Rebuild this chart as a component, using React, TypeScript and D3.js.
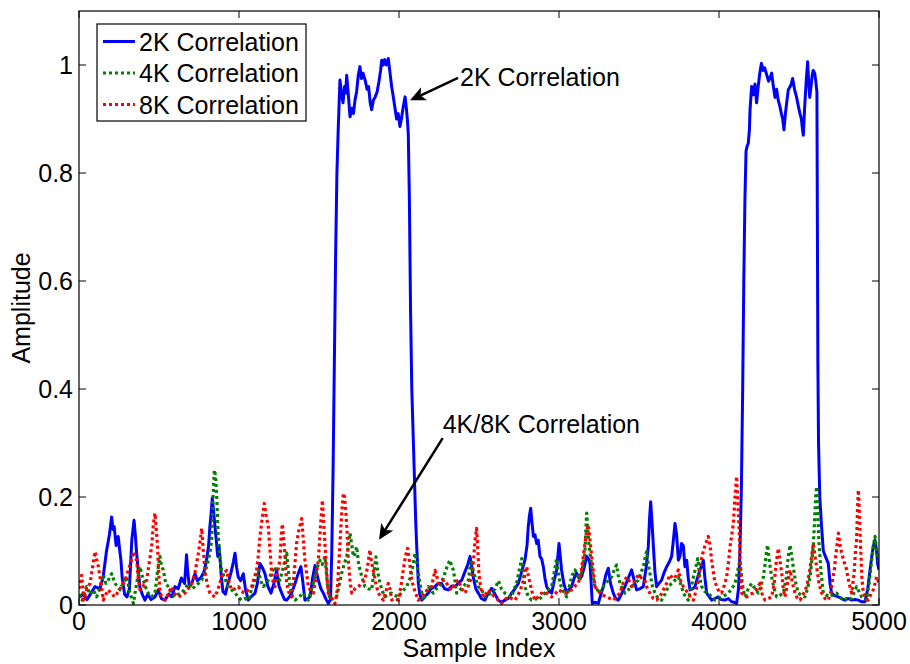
import React from "react";
import * as d3 from "d3";

// Correlation magnitude vs. sample index, [sample, amplitude]
const corr2k: [number, number][] = [
  [0,0.015],[25,0.02],[50,0.01],[75,0.022],[100,0.034],[130,0.03],[150,0.05],[172,0.10],[190,0.13],[204,0.163],[212,0.14],[220,0.145],[232,0.11],[245,0.127],[255,0.10],[262,0.083],[270,0.05],[285,0.02],[300,0.015],[315,0.03],[330,0.12],[344,0.157],[352,0.13],[360,0.096],[372,0.06],[380,0.034],[395,0.02],[412,0.009],[430,0.02],[450,0.01],[475,0.015],[495,0.028],[515,0.012],[537,0.009],[560,0.02],[580,0.015],[600,0.034],[620,0.03],[640,0.05],[660,0.04],[672,0.093],[680,0.06],[690,0.034],[705,0.04],[725,0.058],[740,0.045],[760,0.05],[780,0.06],[797,0.083],[810,0.11],[818,0.145],[826,0.17],[833,0.198],[842,0.17],[850,0.145],[858,0.12],[867,0.09],[875,0.11],[883,0.08],[890,0.05],[900,0.025],[915,0.02],[931,0.04],[950,0.06],[965,0.08],[975,0.096],[985,0.07],[995,0.052],[1010,0.045],[1027,0.058],[1040,0.03],[1058,0.009],[1075,0.015],[1100,0.022],[1115,0.04],[1131,0.077],[1145,0.07],[1162,0.058],[1180,0.035],[1200,0.022],[1218,0.04],[1235,0.064],[1250,0.035],[1267,0.022],[1285,0.01],[1298,0.009],[1315,0.015],[1329,0.022],[1350,0.04],[1371,0.059],[1387,0.071],[1400,0.04],[1412,0.009],[1430,0.012],[1444,0.015],[1460,0.05],[1475,0.073],[1485,0.06],[1496,0.046],[1512,0.03],[1527,0.022],[1545,0.01],[1558,0.003],[1572,0.01],[1580,0.1],[1588,0.25],[1596,0.45],[1604,0.65],[1612,0.8],[1620,0.88],[1631,0.972],[1640,0.95],[1650,0.93],[1660,0.96],[1667,0.948],[1673,0.981],[1682,0.95],[1694,0.904],[1705,0.92],[1715,0.91],[1725,0.935],[1735,0.95],[1745,0.98],[1756,0.997],[1765,0.975],[1775,0.985],[1790,0.97],[1800,0.955],[1810,0.96],[1820,0.93],[1829,0.917],[1840,0.935],[1850,0.94],[1863,0.95],[1875,0.97],[1885,0.99],[1892,1.009],[1900,1.0],[1910,1.01],[1920,1.0],[1933,1.012],[1942,0.99],[1954,0.96],[1965,0.94],[1975,0.92],[1985,0.9],[1995,0.91],[2006,0.886],[2015,0.9],[2025,0.92],[2038,0.941],[2046,0.92],[2052,0.9],[2058,0.873],[2065,0.75],[2072,0.55],[2080,0.4],[2090,0.3],[2098,0.22],[2105,0.15],[2112,0.1],[2121,0.04],[2130,0.02],[2142,0.009],[2160,0.015],[2183,0.022],[2200,0.03],[2225,0.034],[2245,0.04],[2266,0.04],[2285,0.03],[2308,0.028],[2330,0.035],[2350,0.034],[2370,0.04],[2392,0.046],[2410,0.06],[2430,0.075],[2444,0.09],[2455,0.07],[2464,0.052],[2480,0.03],[2496,0.022],[2515,0.012],[2537,0.009],[2555,0.02],[2579,0.031],[2600,0.02],[2621,0.009],[2640,0.005],[2662,0.009],[2683,0.012],[2704,0.022],[2725,0.03],[2746,0.04],[2765,0.06],[2787,0.083],[2800,0.11],[2808,0.145],[2815,0.165],[2823,0.179],[2832,0.15],[2840,0.127],[2850,0.13],[2860,0.114],[2870,0.12],[2881,0.09],[2892,0.085],[2902,0.071],[2912,0.05],[2923,0.034],[2940,0.025],[2954,0.022],[2970,0.045],[2985,0.065],[3000,0.114],[3008,0.09],[3016,0.065],[3030,0.04],[3048,0.022],[3065,0.03],[3079,0.034],[3095,0.05],[3110,0.059],[3125,0.05],[3141,0.052],[3158,0.07],[3173,0.09],[3185,0.085],[3194,0.077],[3201,0.04],[3208,0.003],[3225,0.005],[3246,0.003],[3262,0.02],[3277,0.034],[3292,0.055],[3308,0.068],[3322,0.04],[3339,0.022],[3355,0.012],[3371,0.009],[3390,0.02],[3412,0.034],[3433,0.05],[3454,0.065],[3470,0.045],[3485,0.028],[3505,0.03],[3527,0.034],[3545,0.07],[3558,0.108],[3566,0.16],[3573,0.191],[3580,0.16],[3590,0.108],[3600,0.06],[3610,0.034],[3625,0.04],[3641,0.046],[3657,0.06],[3673,0.071],[3690,0.08],[3704,0.09],[3715,0.12],[3725,0.151],[3735,0.13],[3746,0.083],[3756,0.09],[3766,0.114],[3777,0.11],[3787,0.071],[3798,0.083],[3808,0.05],[3819,0.028],[3835,0.03],[3850,0.034],[3865,0.05],[3881,0.065],[3895,0.075],[3902,0.083],[3912,0.05],[3923,0.022],[3940,0.015],[3954,0.009],[3975,0.012],[3996,0.015],[4015,0.01],[4037,0.009],[4058,0.012],[4079,0.006],[4095,0.005],[4110,0.003],[4122,0.03],[4131,0.1],[4140,0.22],[4148,0.4],[4155,0.6],[4162,0.75],[4169,0.84],[4176,0.85],[4183,0.855],[4190,0.88],[4194,0.917],[4204,0.96],[4215,0.945],[4225,0.965],[4235,0.93],[4245,0.96],[4255,0.985],[4265,1.003],[4275,0.99],[4285,0.995],[4300,0.98],[4310,0.97],[4318,0.975],[4329,0.985],[4340,0.96],[4350,0.94],[4360,0.955],[4370,0.935],[4381,0.923],[4390,0.91],[4398,0.9],[4406,0.88],[4415,0.91],[4425,0.935],[4433,0.954],[4445,0.96],[4452,0.965],[4460,0.975],[4472,0.955],[4485,0.94],[4495,0.925],[4506,0.91],[4515,0.9],[4522,0.88],[4527,0.87],[4535,0.92],[4545,0.97],[4554,1.006],[4560,0.97],[4567,0.94],[4575,0.96],[4582,0.98],[4589,0.99],[4598,0.985],[4605,0.97],[4612,0.95],[4615,0.7],[4618,0.45],[4622,0.3],[4630,0.2],[4640,0.15],[4652,0.1],[4665,0.09],[4683,0.077],[4694,0.04],[4704,0.022],[4720,0.018],[4746,0.015],[4765,0.012],[4787,0.009],[4808,0.012],[4829,0.009],[4850,0.01],[4871,0.009],[4890,0.006],[4912,0.006],[4930,0.03],[4944,0.065],[4955,0.09],[4964,0.108],[4975,0.12],[4985,0.1],[4991,0.077],[5000,0.065],
];

const corr4k: [number, number][] = [
  [0,0.02],[20,0.009],[48,0.034],[70,0.02],[90,0.028],[110,0.015],[130,0.03],[152,0.056],[168,0.04],[183,0.046],[204,0.058],[225,0.04],[256,0.028],[275,0.04],[298,0.052],[320,0.02],[340,0.003],[360,0.04],[381,0.071],[402,0.046],[420,0.03],[433,0.022],[455,0.015],[475,0.022],[490,0.06],[506,0.09],[517,0.07],[527,0.065],[542,0.04],[558,0.034],[580,0.02],[600,0.015],[620,0.02],[641,0.022],[662,0.03],[683,0.04],[704,0.03],[725,0.034],[746,0.04],[766,0.046],[787,0.06],[808,0.083],[820,0.1],[829,0.12],[838,0.2],[846,0.25],[853,0.24],[860,0.207],[866,0.16],[870,0.127],[880,0.09],[891,0.065],[910,0.05],[933,0.034],[954,0.028],[975,0.022],[995,0.015],[1016,0.009],[1037,0.012],[1058,0.009],[1079,0.03],[1100,0.046],[1110,0.055],[1121,0.065],[1135,0.045],[1152,0.034],[1168,0.04],[1183,0.046],[1204,0.06],[1225,0.071],[1240,0.05],[1256,0.046],[1277,0.07],[1298,0.096],[1310,0.06],[1319,0.034],[1335,0.015],[1350,0.009],[1375,0.015],[1402,0.022],[1418,0.012],[1433,0.009],[1455,0.03],[1475,0.052],[1490,0.07],[1506,0.083],[1520,0.075],[1537,0.09],[1552,0.04],[1569,0.009],[1590,0.012],[1610,0.015],[1625,0.035],[1642,0.059],[1657,0.075],[1673,0.09],[1684,0.11],[1694,0.133],[1705,0.11],[1715,0.09],[1725,0.095],[1735,0.108],[1746,0.08],[1756,0.065],[1770,0.05],[1787,0.034],[1808,0.03],[1829,0.028],[1843,0.06],[1856,0.089],[1868,0.06],[1881,0.04],[1897,0.025],[1912,0.015],[1933,0.02],[1954,0.022],[1975,0.018],[1996,0.015],[2020,0.025],[2048,0.034],[2070,0.05],[2085,0.07],[2100,0.096],[2110,0.08],[2121,0.059],[2137,0.03],[2152,0.009],[2168,0.02],[2183,0.034],[2200,0.028],[2214,0.022],[2235,0.03],[2256,0.034],[2270,0.045],[2287,0.059],[2305,0.075],[2319,0.083],[2330,0.07],[2340,0.065],[2352,0.04],[2360,0.022],[2380,0.028],[2402,0.034],[2418,0.04],[2433,0.046],[2444,0.07],[2454,0.083],[2465,0.06],[2475,0.052],[2496,0.034],[2517,0.028],[2537,0.015],[2558,0.02],[2579,0.022],[2600,0.03],[2621,0.045],[2640,0.03],[2662,0.022],[2683,0.018],[2704,0.015],[2720,0.03],[2735,0.04],[2752,0.065],[2767,0.086],[2777,0.06],[2787,0.034],[2808,0.015],[2829,0.009],[2850,0.012],[2871,0.009],[2892,0.015],[2912,0.022],[2933,0.028],[2954,0.034],[2970,0.06],[2985,0.086],[2996,0.06],[3006,0.04],[3027,0.025],[3048,0.015],[3065,0.035],[3079,0.052],[3090,0.06],[3100,0.065],[3115,0.055],[3131,0.046],[3148,0.07],[3162,0.096],[3168,0.14],[3173,0.17],[3180,0.14],[3188,0.11],[3194,0.096],[3210,0.06],[3225,0.034],[3240,0.028],[3256,0.022],[3270,0.03],[3287,0.04],[3308,0.045],[3329,0.052],[3345,0.065],[3360,0.074],[3370,0.055],[3381,0.04],[3397,0.03],[3412,0.022],[3433,0.028],[3454,0.034],[3475,0.04],[3496,0.046],[3512,0.06],[3527,0.071],[3540,0.09],[3548,0.099],[3558,0.075],[3568,0.059],[3584,0.035],[3600,0.022],[3620,0.012],[3641,0.009],[3662,0.02],[3683,0.034],[3704,0.04],[3725,0.046],[3746,0.052],[3766,0.034],[3777,0.022],[3792,0.015],[3808,0.009],[3825,0.03],[3840,0.052],[3855,0.07],[3867,0.086],[3880,0.05],[3892,0.034],[3912,0.025],[3933,0.022],[3954,0.015],[3975,0.009],[3996,0.012],[4016,0.015],[4037,0.018],[4058,0.022],[4080,0.03],[4100,0.04],[4115,0.06],[4131,0.083],[4145,0.04],[4162,0.015],[4183,0.03],[4204,0.04],[4225,0.03],[4246,0.022],[4262,0.035],[4277,0.052],[4290,0.08],[4297,0.1],[4304,0.111],[4315,0.08],[4329,0.052],[4345,0.03],[4360,0.015],[4380,0.018],[4402,0.022],[4420,0.05],[4433,0.09],[4444,0.111],[4455,0.09],[4464,0.071],[4480,0.04],[4496,0.022],[4515,0.018],[4537,0.015],[4553,0.03],[4569,0.052],[4580,0.08],[4590,0.114],[4598,0.16],[4604,0.2],[4610,0.219],[4617,0.17],[4625,0.114],[4638,0.06],[4652,0.022],[4672,0.018],[4694,0.015],[4715,0.02],[4735,0.022],[4756,0.015],[4777,0.009],[4798,0.012],[4819,0.009],[4840,0.02],[4860,0.034],[4875,0.025],[4891,0.015],[4907,0.012],[4923,0.009],[4938,0.04],[4954,0.083],[4965,0.11],[4975,0.127],[4985,0.1],[4996,0.083],[5000,0.08],
];

const corr8k: [number, number][] = [
  [0,0.03],[17,0.055],[30,0.009],[50,0.03],[69,0.04],[85,0.07],[100,0.099],[110,0.085],[121,0.071],[137,0.04],[152,0.009],[168,0.02],[183,0.028],[204,0.02],[225,0.015],[245,0.025],[266,0.034],[287,0.045],[308,0.065],[325,0.08],[340,0.099],[350,0.09],[360,0.083],[370,0.05],[381,0.028],[402,0.035],[423,0.046],[440,0.08],[454,0.108],[465,0.15],[475,0.17],[483,0.14],[491,0.108],[500,0.05],[506,0.022],[520,0.015],[537,0.009],[558,0.02],[579,0.034],[600,0.02],[620,0.015],[641,0.018],[662,0.022],[683,0.03],[704,0.04],[725,0.06],[746,0.096],[758,0.12],[767,0.142],[777,0.1],[787,0.065],[800,0.04],[818,0.022],[835,0.018],[850,0.015],[870,0.03],[891,0.052],[908,0.06],[923,0.064],[940,0.04],[954,0.028],[975,0.03],[996,0.034],[1016,0.025],[1037,0.022],[1058,0.028],[1079,0.034],[1095,0.05],[1110,0.064],[1120,0.09],[1131,0.127],[1145,0.16],[1158,0.188],[1170,0.165],[1183,0.145],[1194,0.1],[1204,0.059],[1215,0.04],[1225,0.034],[1240,0.06],[1256,0.083],[1264,0.13],[1271,0.15],[1280,0.12],[1290,0.08],[1298,0.04],[1315,0.02],[1329,0.015],[1345,0.06],[1360,0.114],[1375,0.14],[1392,0.16],[1402,0.12],[1412,0.083],[1422,0.06],[1433,0.034],[1450,0.025],[1465,0.022],[1480,0.05],[1496,0.083],[1508,0.14],[1521,0.194],[1530,0.15],[1537,0.114],[1548,0.06],[1558,0.022],[1580,0.012],[1600,0.003],[1615,0.03],[1631,0.114],[1642,0.17],[1652,0.207],[1660,0.2],[1667,0.176],[1675,0.14],[1683,0.083],[1694,0.045],[1704,0.022],[1725,0.03],[1746,0.034],[1766,0.04],[1787,0.046],[1803,0.07],[1818,0.102],[1828,0.08],[1839,0.065],[1855,0.04],[1871,0.022],[1887,0.015],[1902,0.009],[1918,0.025],[1933,0.04],[1944,0.03],[1954,0.009],[1975,0.012],[1996,0.009],[2012,0.035],[2027,0.065],[2040,0.09],[2054,0.105],[2066,0.08],[2079,0.046],[2100,0.025],[2121,0.009],[2140,0.015],[2162,0.022],[2183,0.03],[2204,0.034],[2215,0.05],[2225,0.064],[2235,0.055],[2246,0.04],[2265,0.045],[2287,0.046],[2308,0.035],[2329,0.028],[2350,0.04],[2371,0.046],[2392,0.03],[2412,0.022],[2433,0.035],[2454,0.052],[2465,0.08],[2475,0.12],[2485,0.142],[2493,0.1],[2500,0.055],[2512,0.03],[2527,0.015],[2542,0.02],[2558,0.028],[2579,0.02],[2600,0.015],[2620,0.009],[2641,0.003],[2662,0.01],[2683,0.015],[2704,0.012],[2725,0.009],[2746,0.02],[2766,0.034],[2782,0.05],[2798,0.071],[2808,0.055],[2819,0.04],[2835,0.02],[2850,0.009],[2870,0.015],[2891,0.022],[2907,0.02],[2923,0.022],[2940,0.018],[2954,0.015],[2975,0.02],[2996,0.028],[3016,0.025],[3037,0.022],[3058,0.025],[3079,0.028],[3100,0.035],[3121,0.04],[3137,0.06],[3152,0.09],[3165,0.12],[3175,0.14],[3183,0.148],[3194,0.12],[3204,0.09],[3215,0.06],[3225,0.034],[3240,0.028],[3256,0.022],[3277,0.018],[3298,0.015],[3318,0.012],[3339,0.009],[3360,0.015],[3381,0.022],[3400,0.04],[3423,0.052],[3438,0.045],[3454,0.034],[3475,0.045],[3496,0.056],[3515,0.05],[3537,0.046],[3552,0.03],[3568,0.022],[3590,0.012],[3610,0.009],[3630,0.015],[3652,0.028],[3672,0.04],[3693,0.056],[3710,0.05],[3725,0.05],[3746,0.065],[3760,0.045],[3777,0.034],[3792,0.028],[3808,0.022],[3825,0.012],[3840,0.009],[3855,0.025],[3871,0.046],[3887,0.08],[3902,0.1],[3918,0.115],[3933,0.127],[3944,0.11],[3954,0.083],[3970,0.05],[3985,0.034],[4000,0.025],[4016,0.022],[4032,0.035],[4048,0.052],[4060,0.08],[4069,0.108],[4080,0.13],[4090,0.151],[4100,0.2],[4110,0.238],[4118,0.19],[4125,0.145],[4133,0.07],[4142,0.022],[4158,0.018],[4173,0.015],[4195,0.02],[4214,0.022],[4235,0.03],[4256,0.04],[4270,0.02],[4287,0.009],[4308,0.012],[4329,0.015],[4345,0.04],[4358,0.08],[4371,0.105],[4382,0.08],[4392,0.059],[4402,0.03],[4412,0.015],[4428,0.04],[4444,0.065],[4460,0.04],[4475,0.022],[4490,0.012],[4506,0.009],[4527,0.02],[4548,0.034],[4565,0.06],[4579,0.09],[4590,0.114],[4600,0.09],[4610,0.071],[4625,0.04],[4642,0.022],[4662,0.012],[4683,0.009],[4700,0.025],[4712,0.05],[4721,0.065],[4733,0.1],[4746,0.133],[4757,0.11],[4767,0.096],[4782,0.08],[4798,0.065],[4813,0.04],[4829,0.022],[4845,0.06],[4853,0.1],[4860,0.12],[4866,0.18],[4871,0.213],[4878,0.17],[4885,0.108],[4893,0.05],[4902,0.022],[4918,0.012],[4933,0.009],[4950,0.02],[4964,0.028],[4975,0.04],[4985,0.052],[5000,0.04],
];

const xTicks = [0, 1000, 2000, 3000, 4000, 5000];
const yTicks = [0, 0.2, 0.4, 0.6, 0.8, 1];
const legendLabels = ["2K Correlation", "4K Correlation", "8K Correlation"];

// Text arrows: tail and head as [sample, amplitude]
const arrow2k = { label: "2K Correlation", tail: [2369, 0.976], head: [2079, 0.936] };
const arrow48k = { label: "4K/8K Correlation", tail: [2273, 0.309], head: [1881, 0.1235] };

const W = 910;
const H = 664;
const M = { left: 79, right: 879, top: 11, bottom: 605 };
const FONT = "'Liberation Sans', Arial, Helvetica, sans-serif";
const FS = 25;

const series = [
  { data: corr2k, color: "#0000ff", dash: undefined as string | undefined, width: 3, label: legendLabels[0] },
  { data: corr4k, color: "#008000", dash: "3 3", width: 3.2, label: legendLabels[1] },
  { data: corr8k, color: "#ff0000", dash: "3 3", width: 3.2, label: legendLabels[2] },
];

function Arrow({ x1, y1, x2, y2 }: { x1: number; y1: number; x2: number; y2: number }) {
  const ang = Math.atan2(y2 - y1, x2 - x1);
  const len = 12;
  const half = 5.5;
  const back = 9;
  const bx = x2 - len * Math.cos(ang);
  const by = y2 - len * Math.sin(ang);
  const px = -Math.sin(ang);
  const py = Math.cos(ang);
  const nx = x2 - back * Math.cos(ang);
  const ny = y2 - back * Math.sin(ang);
  const pts = [
    [x2, y2],
    [bx + px * half, by + py * half],
    [nx, ny],
    [bx - px * half, by - py * half],
  ];
  return (
    <g>
      <line x1={x1} y1={y1} x2={nx} y2={ny} stroke="#000" strokeWidth={2.5} />
      <polygon points={pts.map((p) => p.join(",")).join(" ")} fill="#000" stroke="#000" strokeWidth={1.5} />
    </g>
  );
}

export default function App() {
  const x = d3.scaleLinear().domain([0, 5000]).range([M.left, M.right]);
  const y = d3.scaleLinear().domain([0, 1.1]).range([M.bottom, M.top]);
  const line = d3
    .line<[number, number]>()
    .x((d) => x(d[0]))
    .y((d) => y(d[1]));
  const fmt = (v: number) => d3.format("~g")(v);
  const tickLen = 7;

  const legendX = 97;
  const legendY = 24;
  const legendW = 209;
  const legendH = 97;
  const rowY = (i: number) => 41.5 + i * 31.5;

  return (
    <svg
      width={W}
      height={H}
      style={{ position: "absolute", left: 0, top: 0, background: "#fff" }}
      fontFamily={FONT}
    >
      <rect x={0} y={0} width={W} height={H} fill="#fff" />
      <defs>
        <clipPath id="plotArea">
          <rect x={M.left} y={M.top} width={M.right - M.left} height={M.bottom - M.top} />
        </clipPath>
      </defs>

      {/* series */}
      <g clipPath="url(#plotArea)">
        {series.map((s, i) => (
          <path
            key={i}
            d={line(s.data) || ""}
            fill="none"
            stroke={s.color}
            strokeWidth={s.width}
            strokeDasharray={s.dash}
            strokeLinejoin="round"
          />
        ))}
      </g>

      {/* axes box and ticks */}
      <rect
        x={M.left}
        y={M.top}
        width={M.right - M.left}
        height={M.bottom - M.top}
        fill="none"
        stroke="#000"
        strokeWidth={1.2}
      />
      {xTicks.map((t) => (
        <g key={"x" + t}>
          <line x1={x(t)} x2={x(t)} y1={M.bottom} y2={M.bottom - tickLen} stroke="#000" strokeWidth={1} />
          <line x1={x(t)} x2={x(t)} y1={M.top} y2={M.top + tickLen} stroke="#000" strokeWidth={1} />
          <text x={x(t)} y={630} textAnchor="middle" fontSize={FS} fill="#000">
            {fmt(t)}
          </text>
        </g>
      ))}
      {yTicks.map((t) => (
        <g key={"y" + t}>
          <line x1={M.left} x2={M.left + tickLen} y1={y(t)} y2={y(t)} stroke="#000" strokeWidth={1} />
          <line x1={M.right} x2={M.right - tickLen} y1={y(t)} y2={y(t)} stroke="#000" strokeWidth={1} />
          <text x={73} y={y(t) + 9} textAnchor="end" fontSize={FS} fill="#000">
            {fmt(t)}
          </text>
        </g>
      ))}

      {/* axis labels */}
      <text x={(M.left + M.right) / 2} y={657} textAnchor="middle" fontSize={FS} fill="#000">
        Sample Index
      </text>
      <text
        transform={`translate(30, ${(M.top + M.bottom) / 2}) rotate(-90)`}
        textAnchor="middle"
        fontSize={FS}
        fill="#000"
      >
        Amplitude
      </text>

      {/* annotations */}
      <Arrow x1={x(arrow2k.tail[0])} y1={y(arrow2k.tail[1])} x2={x(arrow2k.head[0])} y2={y(arrow2k.head[1])} />
      <text x={x(arrow2k.tail[0]) + 2} y={86} fontSize={FS} fill="#000">
        {arrow2k.label}
      </text>
      <Arrow x1={x(arrow48k.tail[0])} y1={y(arrow48k.tail[1])} x2={x(arrow48k.head[0])} y2={y(arrow48k.head[1])} />
      <text x={x(arrow48k.tail[0])} y={433} fontSize={FS} fill="#000">
        {arrow48k.label}
      </text>

      {/* legend */}
      <rect x={legendX} y={legendY} width={legendW} height={legendH} fill="#fff" stroke="#000" strokeWidth={1.2} />
      {series.map((s, i) => (
        <g key={"lg" + i}>
          <line
            x1={103}
            x2={135}
            y1={rowY(i)}
            y2={rowY(i)}
            stroke={s.color}
            strokeWidth={s.width}
            strokeDasharray={s.dash}
          />
          <text x={139} y={rowY(i) + 9} fontSize={FS} fill="#000">
            {s.label}
          </text>
        </g>
      ))}
    </svg>
  );
}
